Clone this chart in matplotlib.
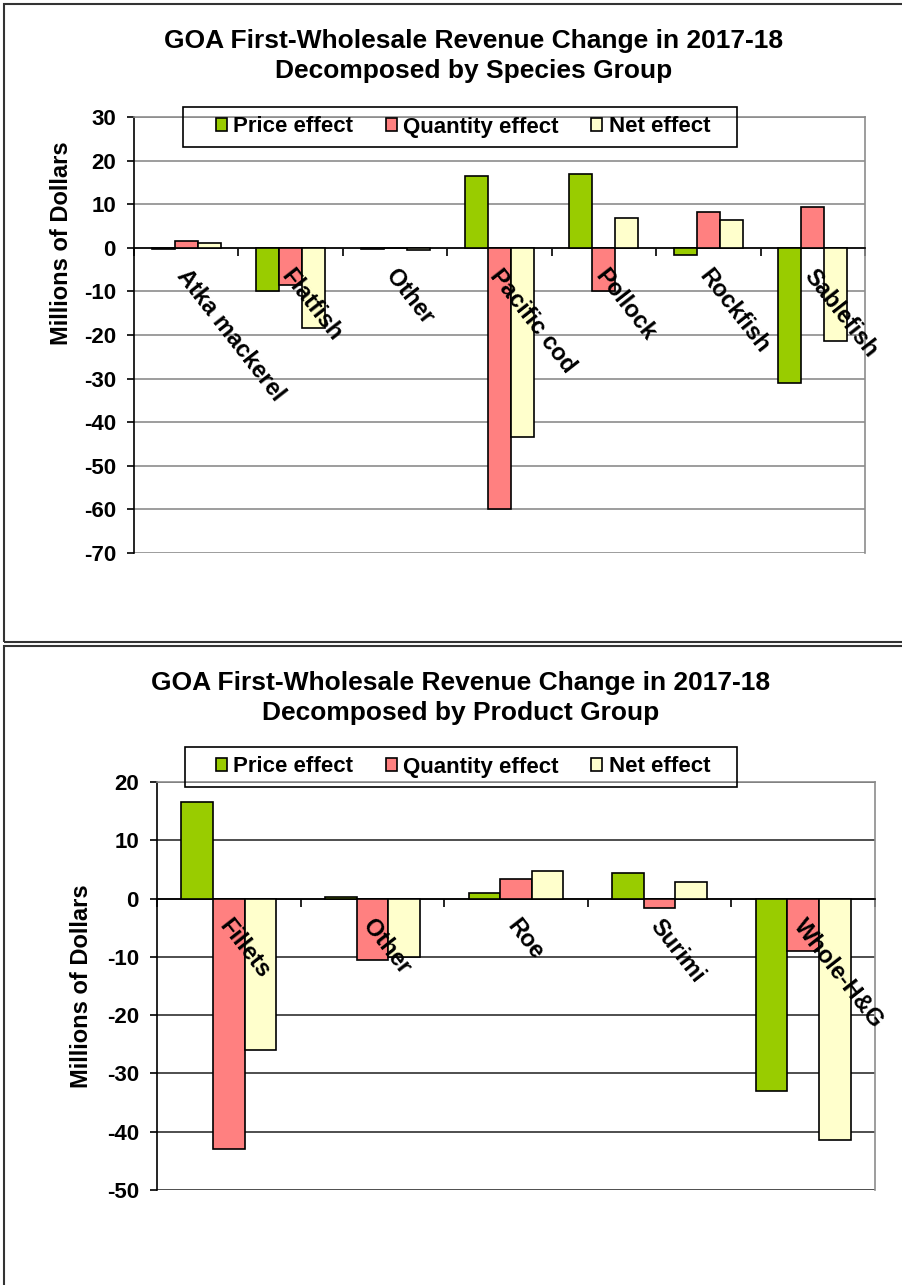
import matplotlib
matplotlib.use('Agg')
import matplotlib.pyplot as plt
import matplotlib.patches as mpatches
import numpy as np

plt.rcParams['font.family'] = ['Liberation Sans', 'DejaVu Sans']
plt.rcParams['font.weight'] = 'bold'
plt.rcParams['axes.unicode_minus'] = False

series = ['Price effect', 'Quantity effect', 'Net effect']
colors = ['#99CC00', '#FF8080', '#FFFFCC']

species = ['Atka mackerel', 'Flatfish', 'Other', 'Pacific cod', 'Pollock', 'Rockfish', 'Sablefish']
species_price = [-0.3, -10.0, -0.2, 16.4, 17.0, -1.7, -31.0]
species_quantity = [1.5, -8.5, -0.1, -60.0, -10.0, 8.2, 9.3]
species_net = [1.1, -18.5, -0.4, -43.5, 6.8, 6.3, -21.4]

products = ['Fillets', 'Other', 'Roe', 'Surimi', 'Whole-H&G']
product_price = [16.6, 0.3, 0.9, 4.4, -33.0]
product_quantity = [-43.0, -10.6, 3.4, -1.7, -9.0]
product_net = [-26.0, -10.1, 4.8, 2.9, -41.5]

W, H = 902, 1285
fig = plt.figure(figsize=(W / 100, H / 100), dpi=100)


def px_axes(left, top, right, bottom):
    return fig.add_axes([left / W, 1 - bottom / H, (right - left) / W, (bottom - top) / H])


def px_box(left, top, right, bottom, **kw):
    # plain rectangle in figure pixels (panel borders, legend frames)
    r = mpatches.Rectangle((left / W, 1 - bottom / H), (right - left) / W, (bottom - top) / H,
                           transform=fig.transFigure, fill=False, **kw)
    fig.patches.append(r)
    return r


def draw_panel(ax, cats, vals, ylim, step, gridcolor, framecolor):
    x = np.arange(len(cats))
    w = 0.22
    for k, (v, c, lab) in enumerate(zip(vals, colors, series)):
        ax.bar(x + (k - 1) * w, v, w, color=c, edgecolor='black', linewidth=1.2,
               label=lab, zorder=3)
    ax.set_xlim(-0.5, len(cats) - 0.5)
    ax.set_ylim(*ylim)
    ax.set_yticks(np.arange(ylim[0], ylim[1] + 1, step))
    ax.yaxis.grid(True, color=gridcolor, linewidth=1.2)
    ax.set_axisbelow(True)
    ax.spines['bottom'].set_position(('data', 0))
    ax.spines['bottom'].set_linewidth(1.2)
    ax.spines['left'].set_linewidth(1.2)
    for s in ['top', 'right']:
        ax.spines[s].set_color(framecolor)
        ax.spines[s].set_linewidth(1.2)
    ax.set_xticks(np.arange(len(cats) + 1) - 0.5)
    ax.set_xticklabels([])
    ax.tick_params(axis='x', direction='out', length=6, width=1.2)
    ax.tick_params(axis='y', direction='out', length=5, width=1.2, labelsize=16, pad=8)
    for i, name in enumerate(cats):
        ax.annotate(name, xy=(i, 0), xytext=(3, -12), textcoords='offset points',
                    rotation=-52, rotation_mode='anchor', ha='left', va='top',
                    fontsize=17, fontweight='bold')


def add_legend(ax, box, ycenter):
    px_box(*box, edgecolor='black', linewidth=1.2, zorder=5)
    h, l = ax.get_legend_handles_labels()
    fig.legend(h, l, loc='center', bbox_to_anchor=(463 / W, 1 - ycenter / H),
               ncol=3, fontsize=16, frameon=False, handlelength=0.5, handleheight=0.5,
               handletextpad=0.3, columnspacing=1.45, borderpad=0, borderaxespad=0)


# panel borders
px_box(4, 4, 1000, 642, edgecolor='#333333', linewidth=1.5)
px_box(4, 646, 1000, 1400, edgecolor='#333333', linewidth=1.5)

# top chart: species groups
ax1 = px_axes(134, 117, 865, 553)
draw_panel(ax1, species, [species_price, species_quantity, species_net], (-70, 30), 10,
           '#8c8c8c', '#8c8c8c')
ax1.set_ylabel('Millions of Dollars', fontsize=17, fontweight='bold')
ax1.yaxis.set_label_coords(-0.083, 0.711)
fig.text(474 / W, 1 - 56 / H, 'GOA First-Wholesale Revenue Change in 2017-18\nDecomposed by Species Group',
         ha='center', va='center', fontsize=19, fontweight='bold', linespacing=1.3)
add_legend(ax1, (183, 107, 737, 147), 127)

# bottom chart: product groups
ax2 = px_axes(157, 782, 875, 1190)
draw_panel(ax2, products, [product_price, product_quantity, product_net], (-50, 20), 10,
           '#303030', '#8c8c8c')
ax2.set_ylabel('Millions of Dollars', fontsize=17, fontweight='bold')
ax2.yaxis.set_label_coords(-0.089, 0.50)
fig.text(461 / W, 1 - 698 / H, 'GOA First-Wholesale Revenue Change in 2017-18\nDecomposed by Product Group',
         ha='center', va='center', fontsize=19, fontweight='bold', linespacing=1.3)
add_legend(ax2, (185, 747, 737, 787), 767)

fig.savefig('out.png', dpi=100)
